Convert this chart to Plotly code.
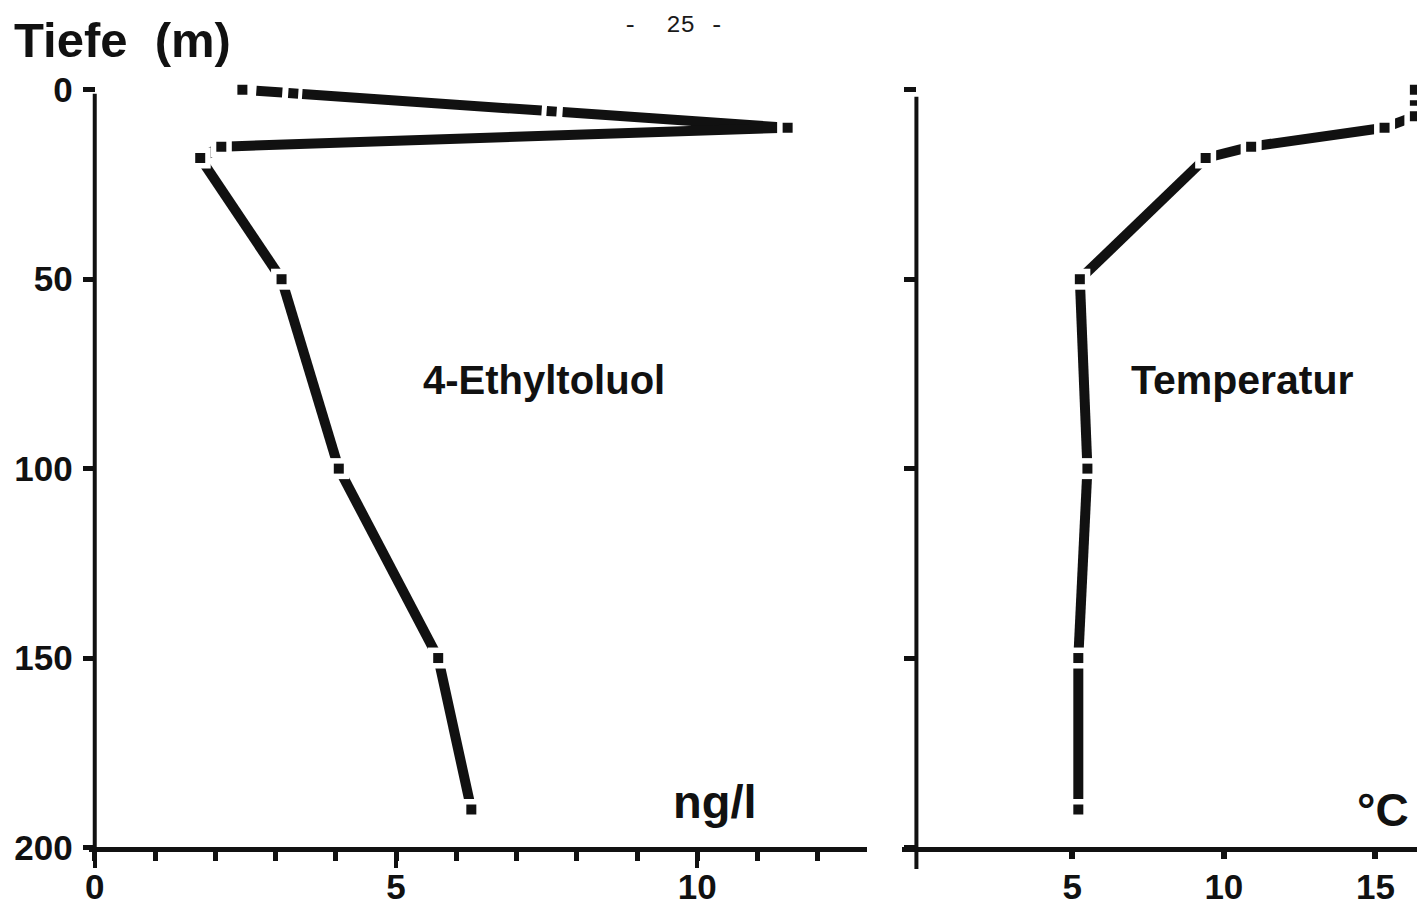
import plotly.graph_objects as go

# ---------------- data ----------------
depth_eth = [0, 10, 15, 18, 50, 100, 150, 190]
eth_ngl = [2.45, 11.5, 2.1, 1.75, 3.1, 4.05, 5.7, 6.25]

depth_temp = [0, 7, 10, 15, 18, 50, 100, 150, 190]
temp_c = [16.3, 16.3, 15.3, 10.9, 9.4, 5.25, 5.5, 5.2, 5.2]

xticks_eth = [0, 5, 10]
xticks_temp = [5, 10, 15]
yticks_depth = [0, 50, 100, 150, 200]

label_eth = "4-Ethyltoluol"
label_temp = "Temperatur"
unit_eth = "ng/l"
unit_temp = "°C"
y_title = "Tiefe  (m)"
page_no = "-  25 -"

# ---------------- layout geometry ----------------
W, H = 1417, 923
FONT = "Liberation Sans"
INK = "#111111"


def px(xp):
    return xp / W


def py(yp):
    return 1 - yp / H


y0_px, y200_px = 88.0, 865.0            # pixel rows of depth 0 and depth 200
ppm = (y200_px - y0_px) / 200.0
y_top_px = y0_px - 4 * ppm
left_dom = [px(85), px(865)]
right_dom = [px(901), px(1417)]
y_dom = [py(y200_px), py(y_top_px)]

fig = go.Figure()


def add_profile(xs, ys, xa, ya, first_dash=None):
    # thick segments between consecutive vertices
    for i in range(len(xs) - 1):
        dash = first_dash if (i == 0 and first_dash) else "solid"
        fig.add_trace(go.Scatter(
            x=[xs[i], xs[i + 1]], y=[ys[i], ys[i + 1]],
            mode="lines", xaxis=xa, yaxis=ya,
            line=dict(color=INK, width=10, dash=dash),
            hoverinfo="skip", showlegend=False))
    # white gaps around each vertex
    fig.add_trace(go.Scatter(
        x=xs, y=ys, mode="markers", xaxis=xa, yaxis=ya,
        marker=dict(symbol="square", size=21, color="white",
                    line=dict(width=0)),
        hoverinfo="skip", showlegend=False))
    # square dot at each vertex
    fig.add_trace(go.Scatter(
        x=xs, y=ys, mode="markers", xaxis=xa, yaxis=ya,
        marker=dict(symbol="square", size=10, color=INK,
                    line=dict(width=0)),
        showlegend=False))


add_profile(eth_ngl, depth_eth, "x", "y",
            first_dash="0px,14px,26px,6px,10px,4px,240px,5px,10px,6px,400px,0px")
add_profile(temp_c, depth_temp, "x2", "y2")

axis_common = dict(showgrid=False, zeroline=False, color=INK,
                   tickfont=dict(family=FONT, size=35, color=INK, weight="bold"))

fig.update_layout(
    width=W, height=H, autosize=False,
    margin=dict(l=0, r=0, t=0, b=0),
    paper_bgcolor="white", plot_bgcolor="white",
    showlegend=False,
    xaxis=dict(domain=left_dom, range=[-0.1, 12.81], anchor="y",
               showline=True, linewidth=5, linecolor=INK,
               tickmode="array", tickvals=xticks_eth,
               ticks="outside", ticklen=16, tickwidth=4, tickcolor=INK,
               ticklabelstandoff=-11,
               minor=dict(dtick=1, tick0=0, ticks="outside", ticklen=9,
                          tickwidth=5, tickcolor=INK),
               **axis_common),
    yaxis=dict(domain=y_dom, range=[200, -4], anchor="free", position=px(91),
               showline=False, tickmode="array", tickvals=yticks_depth,
               ticks="outside", ticklen=12, tickwidth=5, tickcolor=INK,
               ticklabelstandoff=3,
               **axis_common),
    xaxis2=dict(domain=right_dom, range=[-0.6, 16.37], anchor="y2",
                showline=True, linewidth=5, linecolor=INK,
                tickmode="array", tickvals=xticks_temp,
                ticks="outside", ticklen=7, tickwidth=6, tickcolor=INK,
                ticklabelstandoff=-2,
                **axis_common),
    yaxis2=dict(domain=y_dom, range=[200, -4], anchor="free", position=px(915),
                showline=False, tickmode="array", tickvals=yticks_depth,
                ticks="outside", ticklen=12, tickwidth=5, tickcolor=INK,
                showticklabels=False, **axis_common),
)

# vertical axis lines (depth 0 .. 200, slightly extended below the x axis)
fig.add_shape(type="line", xref="paper", yref="paper",
              x0=px(91), x1=px(91), y0=py(92), y1=py(y200_px + 2),
              line=dict(color=INK, width=4))
fig.add_shape(type="line", xref="paper", yref="paper",
              x0=px(915), x1=px(915), y0=py(95), y1=py(y200_px + 22),
              line=dict(color=INK, width=4))

# texts
fig.add_annotation(xref="paper", yref="paper", x=px(8), y=py(37),
                   xanchor="left", yanchor="middle", showarrow=False,
                   text=y_title,
                   font=dict(family=FONT, size=49, color=INK, weight="bold"))
fig.add_annotation(xref="paper", yref="paper", x=px(671), y=py(22),
                   xanchor="center", yanchor="middle", showarrow=False,
                   text=page_no,
                   font=dict(family="Liberation Mono", size=24, color="#1a1a1a"))
fig.add_annotation(xref="x", yref="y", x=7.45, y=76.7, showarrow=False,
                   text=label_eth,
                   font=dict(family=FONT, size=40, color=INK, weight="bold"))
fig.add_annotation(xref="x2", yref="y2", x=10.6, y=76.7, showarrow=False,
                   text=label_temp,
                   font=dict(family=FONT, size=41, color=INK, weight="bold"))
fig.add_annotation(xref="x", yref="y", x=10.3, y=188, showarrow=False,
                   text=unit_eth,
                   font=dict(family=FONT, size=47, color=INK, weight="bold"))
fig.add_annotation(xref="paper", yref="y2", x=px(1411), y=190, showarrow=False,
                   xanchor="right", text=unit_temp,
                   font=dict(family=FONT, size=46, color=INK, weight="bold"))

fig.write_html("out.html",
               config={"displayModeBar": False, "responsive": False},
               post_script="document.body.style.margin='0';"
                           "document.body.style.overflow='hidden';")
